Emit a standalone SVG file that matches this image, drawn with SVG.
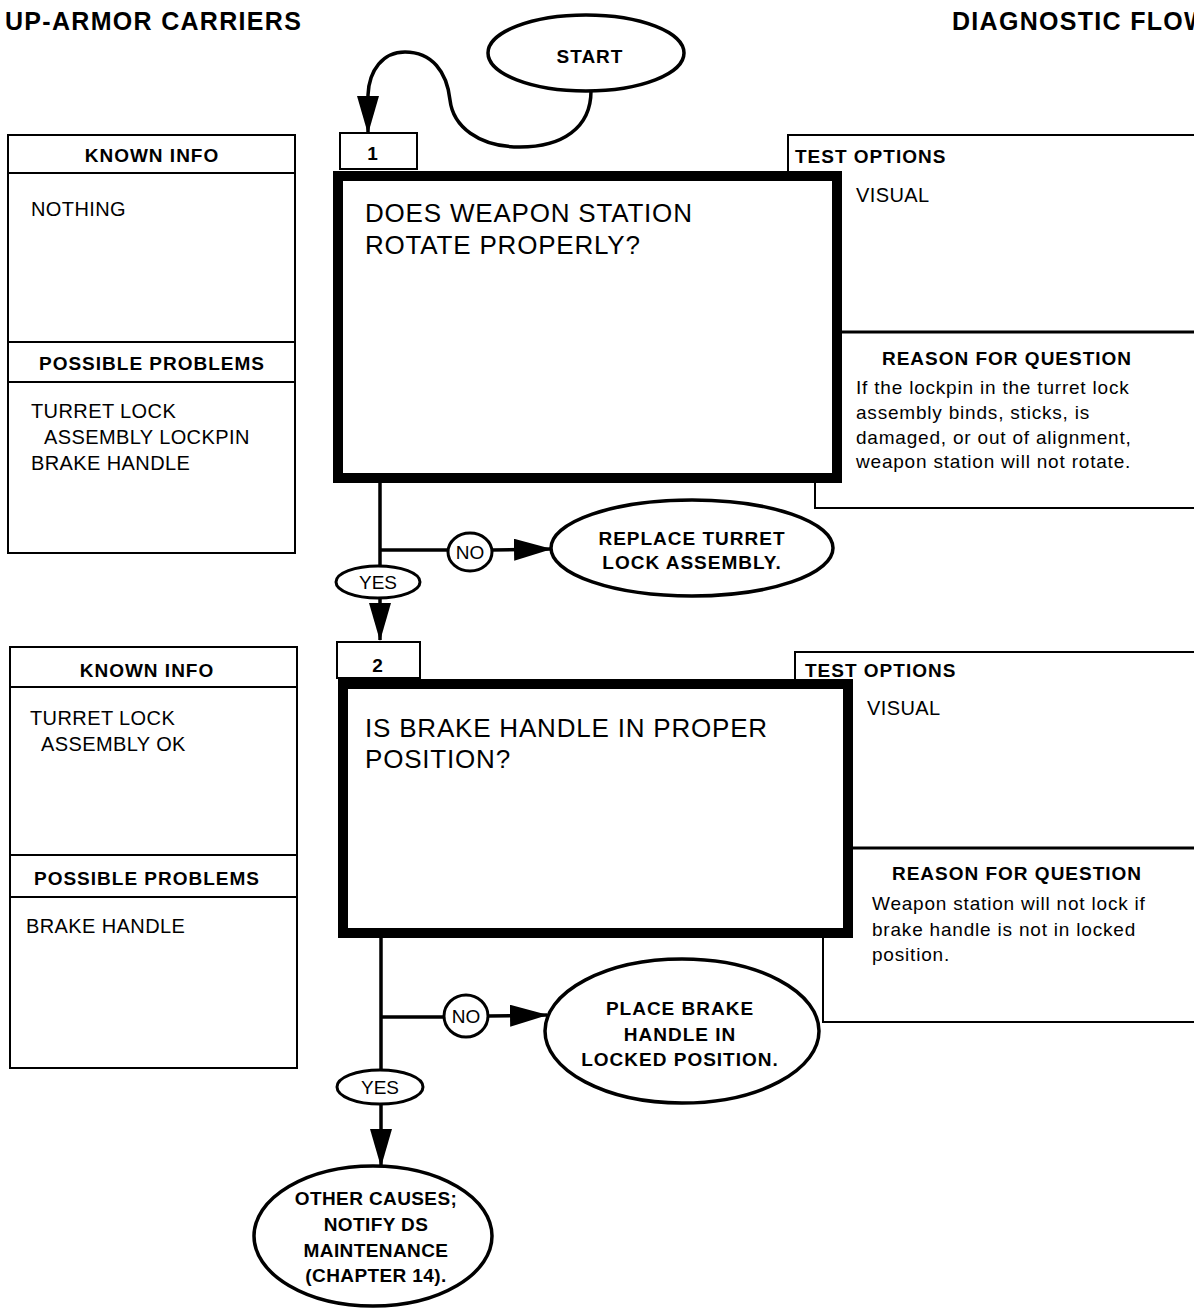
<svg xmlns="http://www.w3.org/2000/svg" width="1194" height="1314" viewBox="0 0 1194 1314">
  <defs>
    <style>
      text { font-family: "Liberation Sans", Arial, Helvetica, sans-serif; fill: #000; }
      .title { font-size: 25px; font-weight: bold; letter-spacing: 1.3px; }
      .lbl { font-size: 19px; font-weight: bold; letter-spacing: 1px; }
      .tight { letter-spacing: 0.4px; }
      .body { font-size: 20px; letter-spacing: 0.4px; }
      .q { font-size: 26px; letter-spacing: 0.8px; }
      .rsn { font-size: 19px; letter-spacing: 0.8px; }
      .yn { font-size: 19px; }
      .mid { text-anchor: middle; }
      .panel { fill: #fff; stroke: #000; stroke-width: 2; }
      .thin { fill: none; stroke: #000; stroke-width: 2; }
      .rule { fill: none; stroke: #000; stroke-width: 3; }
      .qbox { fill: #fff; stroke: #000; stroke-width: 10; }
      .term { fill: #fff; stroke: #000; stroke-width: 3.5; }
      .tag { fill: #fff; stroke: #000; stroke-width: 3; }
      .flow { fill: none; stroke: #000; stroke-width: 3.5; }
      .flow-arrow { fill: none; stroke: #000; stroke-width: 3.5; marker-end: url(#ah); }
    </style>
    <marker id="ah" markerUnits="userSpaceOnUse" viewBox="0 0 38 22" markerWidth="38" markerHeight="22" refX="37" refY="11" orient="auto">
      <path d="M0,0 L38,11 L0,22 z" fill="#000"/>
    </marker>
  </defs>

  <rect width="1194" height="1314" fill="#fff"/>

  <!-- page header -->
  <text class="title" x="5" y="30">UP-ARMOR CARRIERS</text>
  <text class="title" x="952" y="30">DIAGNOSTIC FLOW</text>

  <!-- ===== step 1 ===== -->
  <g id="info-panel-1">
    <rect class="panel" x="8" y="135" width="287" height="418"/>
    <line class="thin" x1="8" y1="173" x2="295" y2="173"/>
    <line class="thin" x1="8" y1="342" x2="295" y2="342"/>
    <line class="thin" x1="8" y1="382" x2="295" y2="382"/>
    <text class="lbl mid" x="152" y="162">KNOWN INFO</text>
    <text class="body" x="31" y="216">NOTHING</text>
    <text class="lbl mid" x="152" y="370">POSSIBLE PROBLEMS</text>
    <text class="body" x="31" y="418">TURRET LOCK</text>
    <text class="body" x="44" y="444">ASSEMBLY LOCKPIN</text>
    <text class="body" x="31" y="470">BRAKE HANDLE</text>
  </g>

  <g id="test-panel-1">
    <path class="thin" d="M1200,135 H788 V176"/>
    <path class="thin" d="M815,480 V508 H1200"/>
    <line class="rule" x1="840" y1="332" x2="1200" y2="332"/>
    <text class="lbl" x="795" y="163">TEST OPTIONS</text>
    <text class="body" x="856" y="202">VISUAL</text>
    <text class="lbl mid" x="1007" y="365">REASON FOR QUESTION</text>
    <text class="rsn" x="856" y="394">If the lockpin in the turret lock</text>
    <text class="rsn" x="856" y="419">assembly binds, sticks, is</text>
    <text class="rsn" x="856" y="444">damaged, or out of alignment,</text>
    <text class="rsn" x="856" y="468">weapon station will not rotate.</text>
  </g>

  <g id="step-1">
    <rect class="panel" x="340" y="133" width="77" height="36"/>
    <text class="lbl mid" x="373" y="160">1</text>
    <rect class="qbox" x="338" y="176" width="499" height="302"/>
    <text class="q" x="365" y="222">DOES WEAPON STATION</text>
    <text class="q" x="365" y="254">ROTATE PROPERLY?</text>
  </g>

  <!-- ===== step 2 ===== -->
  <g id="info-panel-2">
    <rect class="panel" x="10" y="647" width="287" height="421"/>
    <line class="thin" x1="10" y1="687" x2="297" y2="687"/>
    <line class="thin" x1="10" y1="855" x2="297" y2="855"/>
    <line class="thin" x1="10" y1="897" x2="297" y2="897"/>
    <text class="lbl mid" x="147" y="677">KNOWN INFO</text>
    <text class="body" x="30" y="725">TURRET LOCK</text>
    <text class="body" x="41" y="751">ASSEMBLY OK</text>
    <text class="lbl mid" x="147" y="885">POSSIBLE PROBLEMS</text>
    <text class="body" x="26" y="933">BRAKE HANDLE</text>
  </g>

  <g id="test-panel-2">
    <path class="thin" d="M1200,652 H795 V684"/>
    <path class="thin" d="M823,935 V1022 H1200"/>
    <line class="rule" x1="851" y1="848" x2="1200" y2="848"/>
    <text class="lbl" x="805" y="677">TEST OPTIONS</text>
    <text class="body" x="867" y="715">VISUAL</text>
    <text class="lbl mid" x="1017" y="880">REASON FOR QUESTION</text>
    <text class="rsn" x="872" y="910">Weapon station will not lock  if</text>
    <text class="rsn" x="872" y="936">brake handle is not in locked</text>
    <text class="rsn" x="872" y="961">position.</text>
  </g>

  <g id="step-2">
    <rect class="panel" x="337" y="642" width="83" height="36"/>
    <text class="lbl mid" x="378" y="672">2</text>
    <rect class="qbox" x="343" y="684" width="505" height="249"/>
    <text class="q" x="365" y="737">IS BRAKE HANDLE IN PROPER</text>
    <text class="q" x="365" y="768">POSITION?</text>
  </g>

  <!-- ===== terminals ===== -->
  <g id="start">
    <ellipse class="term" cx="586" cy="53" rx="98" ry="38"/>
    <text class="lbl mid" x="590" y="63">START</text>
  </g>

  <g id="replace-turret-lock">
    <ellipse class="term" cx="692" cy="548" rx="141" ry="48"/>
    <text class="lbl mid" x="692" y="545">REPLACE TURRET</text>
    <text class="lbl mid" x="692" y="569">LOCK ASSEMBLY.</text>
  </g>

  <g id="place-brake-handle">
    <ellipse class="term" cx="682" cy="1031" rx="137" ry="72"/>
    <text class="lbl mid" x="680" y="1015">PLACE BRAKE</text>
    <text class="lbl mid" x="680" y="1041">HANDLE IN</text>
    <text class="lbl mid" x="680" y="1066">LOCKED POSITION.</text>
  </g>

  <g id="other-causes">
    <ellipse class="term" cx="373" cy="1236" rx="119" ry="70"/>
    <text class="lbl tight mid" x="376" y="1205">OTHER CAUSES;</text>
    <text class="lbl tight mid" x="376" y="1231">NOTIFY DS</text>
    <text class="lbl tight mid" x="376" y="1257">MAINTENANCE</text>
    <text class="lbl tight mid" x="376" y="1282">(CHAPTER 14).</text>
  </g>

  <!-- ===== connectors ===== -->
  <g id="connectors">
    <!-- start to step 1 -->
    <path class="flow-arrow" d="M591,91 C591,128 562,147 520,147 C478,147 453,126 450,100 C447,72 432,52 405,52 C383,52 369,70 368,95 L368,133"/>

    <!-- step 1 branches -->
    <line class="flow" x1="380" y1="481" x2="380" y2="567"/>
    <line class="flow" x1="380" y1="550" x2="448" y2="550"/>
    <line class="flow-arrow" x1="492" y1="550" x2="551" y2="549"/>
    <line class="flow-arrow" x1="380" y1="598" x2="380" y2="640"/>

    <!-- step 2 branches -->
    <line class="flow" x1="381" y1="936" x2="381" y2="1070"/>
    <line class="flow" x1="381" y1="1017" x2="444" y2="1017"/>
    <line class="flow-arrow" x1="488" y1="1016" x2="547" y2="1015"/>
    <line class="flow-arrow" x1="381" y1="1105" x2="381" y2="1166"/>
  </g>

  <!-- yes / no tags -->
  <g id="no-1">
    <ellipse class="tag" cx="470" cy="552" rx="22" ry="19"/>
    <text class="yn mid" x="470" y="559">NO</text>
  </g>
  <g id="yes-1">
    <ellipse class="tag" cx="378" cy="582" rx="42" ry="16"/>
    <text class="yn mid" x="378" y="589">YES</text>
  </g>
  <g id="no-2">
    <ellipse class="tag" cx="466" cy="1016" rx="22" ry="21"/>
    <text class="yn mid" x="466" y="1023">NO</text>
  </g>
  <g id="yes-2">
    <ellipse class="tag" cx="380" cy="1087" rx="43" ry="17"/>
    <text class="yn mid" x="380" y="1094">YES</text>
  </g>
</svg>
